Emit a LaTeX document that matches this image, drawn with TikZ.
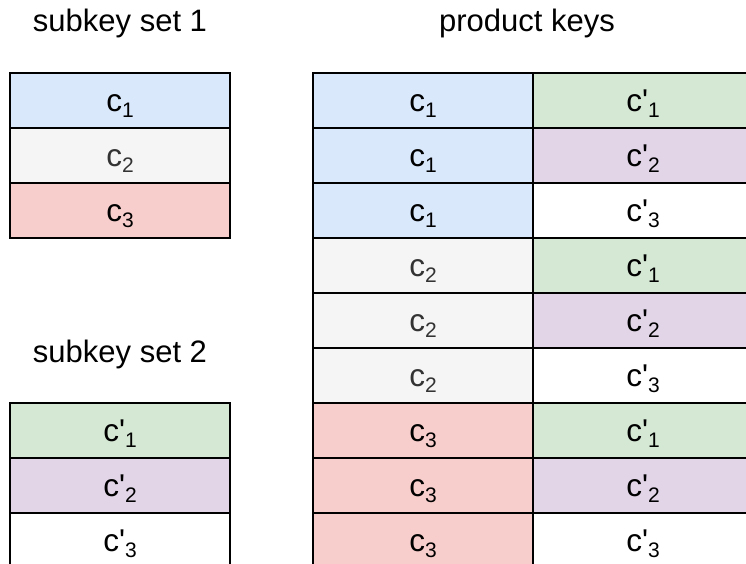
\documentclass[tikz,border=0pt]{standalone}
\usepackage{fontspec}
\setmainfont{Liberation Sans}
\usepackage{tikz}
\usetikzlibrary{positioning}

\definecolor{azul}{HTML}{DAE8FC}
\definecolor{gris}{HTML}{F5F5F5}
\definecolor{grist}{HTML}{333333}
\definecolor{rojo}{HTML}{F8CECC}
\definecolor{verde}{HTML}{D5E8D4}
\definecolor{lila}{HTML}{E1D5E7}

\newcommand{\indice}[1]{\raisebox{-6pt}{\fontsize{21}{21}\selectfont #1}}
\newcommand{\clave}[1]{c\indice{#1}}
\newcommand{\claveb}[1]{c\textquotesingle\indice{#1}}

\begin{document}
\begin{tikzpicture}[x=1pt, y=-1pt,
    celda/.style={draw, rectangle, line width=2pt, minimum width=220pt, minimum height=55pt, inner sep=0pt, text height=22.5pt, text depth=0pt, font=\fontsize{31.5}{36}\selectfont},
    titulo/.style={anchor=base, inner sep=0pt, font=\fontsize{31}{36}\selectfont}]
            \useasboundingbox (0,0) rectangle (746,564);

            % Titulos
            \node[titulo] (t1) at (120,32) {subkey set 1};
            \node[titulo] (t2) at (527,32) {product keys};
            \node[titulo] (t3) at (120,362) {subkey set 2};

            % Subclaves 1
            \node[celda, fill=azul] (a1) at (120,100.5) {\clave{1}};
            \node[celda, fill=gris, text=grist] (a2) at (120,155.5) {\clave{2}};
            \node[celda, fill=rojo] (a3) at (120,210.5) {\clave{3}};

            % Subclaves 2
            \node[celda, fill=verde] (b1) at (120,430.5) {\claveb{1}};
            \node[celda, fill=lila] (b2) at (120,485.5) {\claveb{2}};
            \node[celda, fill=white] (b3) at (120,540.5) {\claveb{3}};

            % Claves producto
            \node[celda, fill=azul] (p1) at (423,100.5) {\clave{1}};
            \node[celda, fill=azul] (p2) at (423,155.5) {\clave{1}};
            \node[celda, fill=azul] (p3) at (423,210.5) {\clave{1}};
            \node[celda, fill=gris, text=grist] (p4) at (423,265.5) {\clave{2}};
            \node[celda, fill=gris, text=grist] (p5) at (423,320.5) {\clave{2}};
            \node[celda, fill=gris, text=grist] (p6) at (423,375.5) {\clave{2}};
            \node[celda, fill=rojo] (p7) at (423,430.5) {\clave{3}};
            \node[celda, fill=rojo] (p8) at (423,485.5) {\clave{3}};
            \node[celda, fill=rojo] (p9) at (423,540.5) {\clave{3}};

            \node[celda, fill=verde] (q1) at (643,100.5) {\claveb{1}};
            \node[celda, fill=lila] (q2) at (643,155.5) {\claveb{2}};
            \node[celda, fill=white] (q3) at (643,210.5) {\claveb{3}};
            \node[celda, fill=verde] (q4) at (643,265.5) {\claveb{1}};
            \node[celda, fill=lila] (q5) at (643,320.5) {\claveb{2}};
            \node[celda, fill=white] (q6) at (643,375.5) {\claveb{3}};
            \node[celda, fill=verde] (q7) at (643,430.5) {\claveb{1}};
            \node[celda, fill=lila] (q8) at (643,485.5) {\claveb{2}};
            \node[celda, fill=white] (q9) at (643,540.5) {\claveb{3}};
          \end{tikzpicture}
\end{document}
